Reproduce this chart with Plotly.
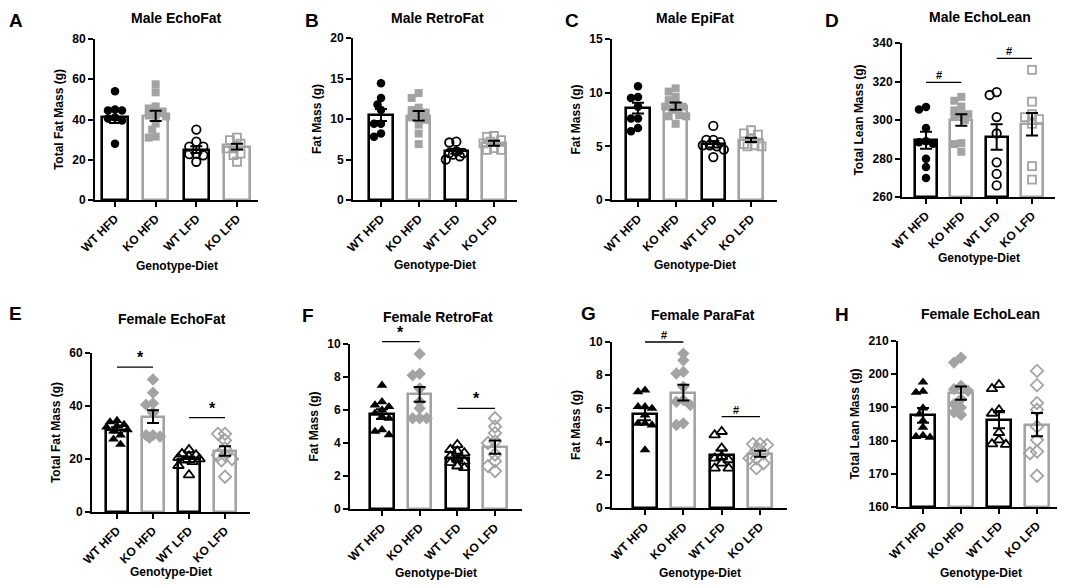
import math

import plotly.graph_objects as go

# page body has an 8px margin, so the figure is drawn 8px smaller and shifted
OFF = 8
W, H = 1065 - OFF, 585 - OFF
FONT = "Arial, 'Liberation Sans', sans-serif"
GREY = "#a3a3a3"

groups = ["WT HFD", "KO HFD", "WT LFD", "KO LFD"]

# A - Male EchoFat
male_echofat_pts = [
    [54, 45, 44.5, 44.5, 41, 40.5, 39.5, 28],
    [57.5, 53.5, 46.5, 45.5, 44, 42, 42, 41.5, 38, 35, 31, 31.5],
    [35, 29, 26.5, 26.5, 23, 22.8, 22.2, 19],
    [31, 29.8, 28, 25.7, 25.7, 23, 22.3, 19],
]
male_echofat_mean = [41.3, 41.8, 25.0, 26.5]
male_echofat_sem = [3.0, 2.5, 1.7, 1.4]

# B - Male RetroFat
male_retrofat_pts = [
    [14.4, 12.6, 11.8, 11.1, 9.4, 9.4, 7.8, 8.2],
    [13.2, 12.6, 11.4, 11.1, 10.8, 10.5, 10.2, 9.9, 9.3, 8.2, 6.9],
    [7.2, 7.1, 6.0, 5.8, 5.8, 5.4, 5.0, 5.6],
    [7.9, 7.8, 7.4, 7.2, 7.0, 6.4, 6.2, 6.2],
]
male_retrofat_mean = [10.5, 10.4, 6.0, 7.0]
male_retrofat_sem = [0.75, 0.6, 0.3, 0.3]

# C - Male EpiFat
male_epifat_pts = [
    [10.6, 9.5, 9.6, 8.7, 7.6, 7.6, 6.4, 6.7],
    [10.4, 10.1, 9.6, 9.3, 8.9, 8.7, 8.7, 8.4, 7.8, 7.9, 7.8, 7.1],
    [6.9, 5.6, 5.6, 5.4, 5.1, 5.0, 5.1, 4.0, 4.7],
    [6.5, 6.2, 6.1, 5.7, 5.1, 5.0, 5.0, 5.2],
]
male_epifat_mean = [8.55, 8.75, 5.2, 5.6]
male_epifat_sem = [0.5, 0.33, 0.3, 0.2]

# D - Male EchoLean
male_echolean_pts = [
    [305.5, 306.7, 295.8, 289, 288.5, 287.7, 279.9, 275.6, 269.9],
    [312, 310, 307, 305, 303, 303, 301.5, 300, 288, 287.5, 283.5],
    [313, 314.5, 301.5, 293, 278, 272, 266],
    [326, 309.5, 301.5, 303, 300.5, 298, 276, 269],
]
male_echolean_mean = [289.5, 300.0, 291.2, 297.8]
male_echolean_sem = [4.4, 3.0, 6.6, 5.8]
male_echolean_sig = [(0, 1, 319.5, "#"), (2, 3, 332, "#")]

# E - Female EchoFat
female_echofat_pts = [
    [34.5, 34, 33, 32.5, 32, 31, 30.5, 29, 27.5, 25.5],
    [50, 45, 40.5, 41, 37.5, 29, 29, 28.5, 28],
    [23.5, 22, 21.5, 21, 20.5, 20, 19.5, 19, 17.5, 14],
    [29.5, 29.5, 27, 24, 21.5, 21.5, 20, 19.5, 13.3],
]
female_echofat_mean = [31.0, 36.0, 19.9, 23.0]
female_echofat_sem = [1.0, 2.4, 1.0, 1.8]
female_echofat_sig = [(0, 1, 54.7, "*"), (2, 3, 35.6, "*")]

# F - Female RetroFat
female_retrofat_pts = [
    [7.5, 6.5, 6.3, 6.2, 6.0, 5.8, 5.6, 5.5, 4.8, 4.7, 4.5],
    [9.4, 8.2, 8.1, 7.3, 6.5, 6.1, 5.5, 5.5, 5.5],
    [3.9, 3.6, 3.5, 3.4, 3.2, 3.0, 2.9, 2.8, 2.6, 2.5],
    [5.5, 5.0, 4.6, 4.1, 4.0, 3.3, 2.9, 2.6, 2.3],
]
female_retrofat_mean = [5.75, 6.95, 3.1, 3.75]
female_retrofat_sem = [0.3, 0.45, 0.15, 0.4]
female_retrofat_sig = [(0, 1, 10.15, "*"), (2, 3, 6.1, "*")]

# G - Female ParaFat
female_parafat_pts = [
    [7.1, 7.0, 6.1, 6.0, 6.1, 5.6, 5.1, 5.0, 5.1, 3.5],
    [9.3, 8.9, 8.1, 8.2, 7.3, 6.5, 6.4, 6.2, 5.1, 5.0],
    [4.6, 4.4, 3.6, 3.1, 3.0, 2.9, 2.7, 2.4, 2.4],
    [3.85, 3.85, 3.8, 3.5, 3.3, 3.0, 3.0, 2.7, 2.4],
]
female_parafat_mean = [5.65, 6.95, 3.2, 3.27]
female_parafat_sem = [0.36, 0.48, 0.27, 0.18]
female_parafat_sig = [(0, 1, 10.0, "#"), (2, 3, 5.5, "#")]

# H - Female EchoLean
female_echolean_pts = [
    [197.6, 194.8, 194.5, 189.8, 188, 186, 184, 181.5, 181.2, 181],
    [205, 203.5, 196.5, 195.5, 195, 192.5, 191, 190, 188.5, 187.8],
    [196.8, 195.6, 189.2, 188.2, 182.4, 180.2, 178.8, 179.0],
    [201, 196.7, 191.3, 189.3, 184.2, 180.2, 176.7, 176.2, 169.4],
]
female_echolean_mean = [187.6, 194.3, 186.3, 184.8]
female_echolean_sem = [2.2, 2.0, 2.6, 3.5]

male_symbols = ["circle", "square", "circle-open", "square-open"]
female_symbols = ["triangle-up", "diamond", "triangle-up-open", "diamond-open"]
colors = ["black", GREY, "black", GREY]

# pixel geometry (screen px): axis left, axis right, first tick, last tick, top, bottom
panels = [
    dict(letter="A", title="Male EchoFat", ytitle="Total Fat Mass (g)",
         pts=male_echofat_pts, mean=male_echofat_mean, sem=male_echofat_sem, sig=[],
         sym=male_symbols, yr=(0, 80), dt=20,
         geo=(95, 258, 115, 237, 39, 200), let=(16, 20), tit=(176, 18), xt=266),
    dict(letter="B", title="Male RetroFat", ytitle="Fat Mass (g)",
         pts=male_retrofat_pts, mean=male_retrofat_mean, sem=male_retrofat_sem, sig=[],
         sym=male_symbols, yr=(0, 20), dt=5,
         geo=(353, 517, 381, 494, 38, 200), let=(312, 20), tit=(437, 18), xt=265),
    dict(letter="C", title="Male EpiFat", ytitle="Fat Mass (g)",
         pts=male_epifat_pts, mean=male_epifat_mean, sem=male_epifat_sem, sig=[],
         sym=male_symbols, yr=(0, 15), dt=5,
         geo=(612, 777, 638, 751, 39, 200), let=(572, 20), tit=(695, 18), xt=265),
    dict(letter="D", title="Male EchoLean", ytitle="Total Lean Mass (g)",
         pts=male_echolean_pts, mean=male_echolean_mean, sem=male_echolean_sem,
         sig=male_echolean_sig, sym=male_symbols, yr=(260, 340), dt=20,
         geo=(902, 1055, 926, 1032, 43, 197), let=(832, 20), tit=(980, 17), xt=258),
    dict(letter="E", title="Female EchoFat", ytitle="Total Fat Mass (g)",
         pts=female_echofat_pts, mean=female_echofat_mean, sem=female_echofat_sem,
         sig=female_echofat_sig, sym=female_symbols, yr=(0, 60), dt=20,
         geo=(92, 250, 117, 225, 353, 512), let=(15, 313), tit=(172, 319), xt=572),
    dict(letter="F", title="Female RetroFat", ytitle="Fat Mass (g)",
         pts=female_retrofat_pts, mean=female_retrofat_mean, sem=female_retrofat_sem,
         sig=female_retrofat_sig, sym=female_symbols, yr=(0, 10), dt=2,
         geo=(350, 522, 382, 495, 344, 509), let=(308, 315), tit=(438, 317), xt=573),
    dict(letter="G", title="Female ParaFat", ytitle="Fat Mass (g)",
         pts=female_parafat_pts, mean=female_parafat_mean, sem=female_parafat_sem,
         sig=female_parafat_sig, sym=female_symbols, yr=(0, 10), dt=2,
         geo=(612, 787, 645, 760, 342, 508), let=(588, 313), tit=(703, 315), xt=573),
    dict(letter="H", title="Female EchoLean", ytitle="Total Lean Mass (g)",
         pts=female_echolean_pts, mean=female_echolean_mean, sem=female_echolean_sem,
         sig=[], sym=female_symbols, yr=(160, 210), dt=10,
         geo=(898, 1063, 923, 1037, 341, 507), let=(842, 314), tit=(980, 314), xt=573),
]


def px_x(v):
    return (v - OFF) / W


def px_y(v):
    return 1 - (v - OFF) / H


def swarm(vals, ppu_y, ppu_x, diam=6.5, step=3.5):
    # simple beeswarm: nearest free horizontal slot for each point
    placed = []
    offs = [0.0] * len(vals)
    order = sorted(range(len(vals)), key=lambda i: -vals[i])
    cands = [0, -1, 1, -2, 2, -3, 3]
    for i in order:
        y = vals[i] * ppu_y
        best, bestd = 0, -1
        for m in cands:
            x = m * step
            d = min((math.hypot(x - px, y - py) for px, py in placed), default=1e9)
            if d >= diam:
                best = x
                break
            if d > bestd:
                bestd, best = d, x
        placed.append((best, y))
        offs[i] = best / ppu_x
    return offs


fig = go.Figure()
annotations = []
shapes = []

for k, p in enumerate(panels):
    n = "" if k == 0 else str(k + 1)
    xa, ya = "x" + n, "y" + n
    left, right, c0, c3, top, bot = p["geo"]
    s = (c3 - c0) / 3
    r0 = -(c0 - left) / s
    r1 = 3 + (right - c3) / s
    ymin, ymax = p["yr"]
    ppu_y = (bot - top) / (ymax - ymin)
    xdom = [px_x(left), px_x(right)]
    ydom = [px_y(bot), px_y(top)]

    fig.add_trace(go.Bar(
        x=list(range(4)), y=[m - ymin for m in p["mean"]], base=ymin,
        width=0.62, marker=dict(color="white", line=dict(color=colors, width=2.6)),
        xaxis=xa, yaxis=ya, showlegend=False, hoverinfo="skip",
    ))
    for g in range(4):
        vals = p["pts"][g]
        offs = swarm(vals, ppu_y, s)
        sym = p["sym"][g]
        is_open = sym.endswith("open")
        size = 8.5 if sym.startswith("circle") else (8 if sym.startswith("square") else 9.5)
        fig.add_trace(go.Scatter(
            x=[g + o for o in offs], y=vals, mode="markers",
            marker=dict(symbol=sym, size=size, color=colors[g],
                        line=dict(width=1.8 if is_open else 0, color=colors[g])),
            xaxis=xa, yaxis=ya, showlegend=False, cliponaxis=False,
        ))
    fig.add_trace(go.Scatter(
        x=list(range(4)), y=p["mean"], mode="markers",
        marker=dict(size=1, opacity=0),
        error_y=dict(type="data", array=p["sem"], color="black", thickness=2, width=6),
        xaxis=xa, yaxis=ya, showlegend=False,
    ))

    # significance bars, mapped through the axis range into paper space so that
    # marks just above the top tick are not clipped
    def to_paper_x(v):
        return xdom[0] + (v - r0) / (r1 - r0) * (xdom[1] - xdom[0])

    def to_paper_y(v):
        return ydom[0] + (v - ymin) / (ymax - ymin) * (ydom[1] - ydom[0])

    for i0, i1, yv, lab in p["sig"]:
        shapes.append(dict(type="line", xref="paper", yref="paper",
                           x0=to_paper_x(i0), x1=to_paper_x(i1),
                           y0=to_paper_y(yv), y1=to_paper_y(yv),
                           line=dict(color="black", width=1.3)))
        annotations.append(dict(xref="paper", yref="paper", x=to_paper_x((i0 + i1) / 2),
                                y=to_paper_y(yv), text=lab,
                                showarrow=False, yanchor="bottom", yshift=-1,
                                font=dict(family=FONT, size=16 if lab == "*" else 11,
                                          color="black", weight="bold")))

    axis_common = dict(showline=True, linecolor="black", linewidth=2, ticks="outside",
                       ticklen=5, tickwidth=2, tickcolor="black", showgrid=False,
                       zeroline=False, fixedrange=True, automargin=False,
                       tickfont=dict(family=FONT, size=12, color="black", weight="bold"))
    fig.layout["xaxis" + n] = dict(
        domain=xdom, range=[r0, r1], anchor=ya,
        tickmode="array", tickvals=list(range(4)), ticktext=groups, tickangle=-45,
        **axis_common)
    fig.layout["yaxis" + n] = dict(
        domain=ydom, range=[ymin, ymax], anchor=xa,
        tickmode="linear", tick0=ymin, dtick=p["dt"],
        title=dict(text=p["ytitle"], standoff=6,
                   font=dict(family=FONT, size=12, color="black", weight="bold")),
        **axis_common)

    lx, ly = p["let"]
    annotations.append(dict(xref="paper", yref="paper", x=px_x(lx), y=px_y(ly),
                            text=p["letter"], showarrow=False, xanchor="center",
                            yanchor="middle",
                            font=dict(family=FONT, size=19, color="black", weight="bold")))
    tx, ty = p["tit"]
    annotations.append(dict(xref="paper", yref="paper", x=px_x(tx), y=px_y(ty),
                            text=p["title"], showarrow=False, xanchor="center",
                            yanchor="middle",
                            font=dict(family=FONT, size=14, color="black", weight="bold")))
    annotations.append(dict(xref="paper", yref="paper", x=px_x((left + right) / 2),
                            y=px_y(p["xt"]), text="Genotype-Diet", showarrow=False,
                            xanchor="center", yanchor="middle",
                            font=dict(family=FONT, size=12, color="black", weight="bold")))

fig.update_layout(
    width=W, height=H, autosize=False,
    margin=dict(l=0, r=0, t=0, b=0, autoexpand=False),
    paper_bgcolor="white", plot_bgcolor="white",
    annotations=annotations, shapes=shapes,
    bargap=0, showlegend=False,
    font=dict(family=FONT, color="black"),
)

fig.write_html("out.html")
